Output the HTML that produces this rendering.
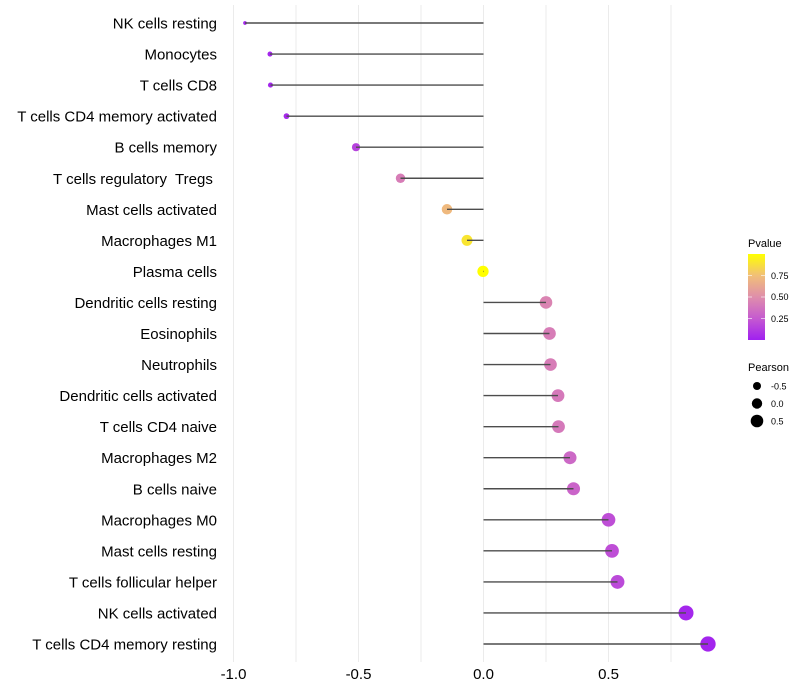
<!DOCTYPE html>
<html><head><meta charset="utf-8"><style>
body{margin:0;background:#fff}
svg{display:block;font-family:"Liberation Sans",sans-serif}
#ylab text{white-space:pre}
</style></head><body>
<svg id="chart" width="800" height="700">
<defs><linearGradient id="pg" x1="0" y1="1" x2="0" y2="0">
<stop offset="0" stop-color="#a020f0"/><stop offset="0.25" stop-color="#c55ad0"/><stop offset="0.5" stop-color="#df8eab"/><stop offset="0.75" stop-color="#f1bf78"/><stop offset="1" stop-color="#ffff00"/></linearGradient></defs>
<g id="grid"></g>
<g id="marks"></g>
<g id="ylab"></g>
<g id="xlab"></g>
<g>
<text x="748" y="247" font-size="11" fill="#000">Pvalue</text>
<rect x="748" y="254" width="17" height="86" fill="url(#pg)"/>
<g stroke="#fff" stroke-width="1" opacity="0.6"><line x1="748" x2="752" y1="275.5" y2="275.5"/><line x1="761" x2="765" y1="275.5" y2="275.5"/><line x1="748" x2="752" y1="297" y2="297"/><line x1="761" x2="765" y1="297" y2="297"/><line x1="748" x2="752" y1="318.5" y2="318.5"/><line x1="761" x2="765" y1="318.5" y2="318.5"/></g>
<g font-size="9" fill="#000"><text x="771" y="279">0.75</text><text x="771" y="300">0.50</text><text x="771" y="322">0.25</text></g>
</g>
<g>
<text x="748" y="371" font-size="11" fill="#000">Pearson</text>
<circle cx="757" cy="386" r="4" fill="#000"/><circle cx="757" cy="403.5" r="5.2" fill="#000"/><circle cx="757" cy="421" r="6.3" fill="#000"/>
<g font-size="9" fill="#000"><text x="771" y="389.5">-0.5</text><text x="771" y="407">0.0</text><text x="771" y="424.5">0.5</text></g>
</g>
</svg>
<script>
const categories=["NK cells resting","Monocytes","T cells CD8","T cells CD4 memory activated","B cells memory","T cells regulatory  Tregs ","Mast cells activated","Macrophages M1","Plasma cells","Dendritic cells resting","Eosinophils","Neutrophils","Dendritic cells activated","T cells CD4 naive","Macrophages M2","B cells naive","Macrophages M0","Mast cells resting","T cells follicular helper","NK cells activated","T cells CD4 memory resting"];
const pearson=[-0.954,-0.854,-0.852,-0.788,-0.51,-0.332,-0.146,-0.066,-0.002,0.25,0.264,0.268,0.298,0.30,0.346,0.36,0.50,0.514,0.536,0.81,0.898];
const pvalues=[0.02,0.03,0.03,0.04,0.15,0.42,0.72,0.9,1.0,0.45,0.42,0.42,0.40,0.40,0.32,0.30,0.2,0.2,0.18,0.03,0.02];
const xTicks=[-1.0,-0.5,0.0,0.5];
const xTickLabels=["-1.0","-0.5","0.0","0.5"];
const xMinor=[-0.75,-0.25,0.25,0.75];
const NS="http://www.w3.org/2000/svg";
const x=v=>483.5+v*250;
const y=i=>23+i*31.05;
function mk(tag,attrs,parent){const e=document.createElementNS(NS,tag);for(const k in attrs)e.setAttribute(k,attrs[k]);parent.appendChild(e);return e;}
const stops=[[0,[160,32,240]],[0.25,[197,90,208]],[0.5,[223,142,171]],[0.75,[241,191,120]],[1,[255,255,0]]];
function col(p){for(let i=0;i<stops.length-1;i++){const[a,c1]=stops[i],[b,c2]=stops[i+1];if(p<=b){const t=(p-a)/(b-a);return "rgb("+c1.map((c,j)=>Math.round(c+(c2[j]-c)*t)).join(",")+")";}}return "rgb(255,255,0)";}
const rad=v=>Math.sqrt(Math.max(1,32+30*v));
const grid=document.getElementById('grid'),marks=document.getElementById('marks'),ylab=document.getElementById('ylab'),xlab=document.getElementById('xlab');
xTicks.concat(xMinor).forEach(t=>{const l=mk('line',{x1:x(t),x2:x(t),y1:5,y2:662,stroke:'#ebebeb','stroke-width':1},grid);

});
xTicks.forEach((t,i)=>{const e=mk('text',{x:x(t),y:679,'font-size':15,'text-anchor':'middle',fill:'#000'},xlab);e.textContent=xTickLabels[i];

});
categories.forEach((c,i)=>{
const t=mk('text',{x:217,y:y(i)+5.5,'font-size':15,'text-anchor':'end',fill:'#000'},ylab);t.textContent=c;


const ci=mk('circle',{cx:x(pearson[i]),cy:y(i),r:rad(pearson[i]),fill:col(pvalues[i])},marks);


const l=mk('line',{x1:x(0),x2:x(pearson[i]),y1:y(i),y2:y(i),stroke:'#4d4d4d','stroke-width':1.4},marks);


});
</script>
</body></html>
